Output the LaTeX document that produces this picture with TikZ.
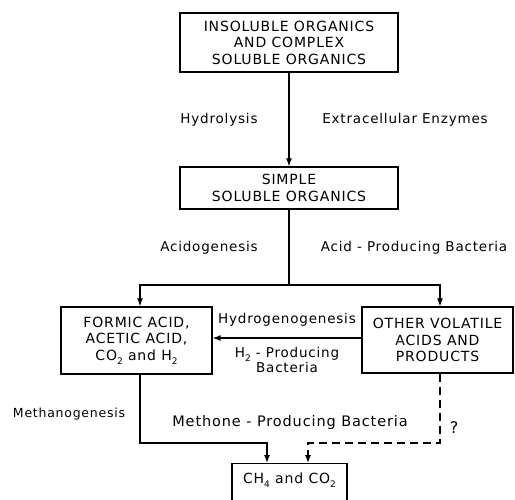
\documentclass[tikz,border=0pt]{standalone}
\usepackage{fontspec}
\usetikzlibrary{arrows.meta}
\setmainfont{DejaVu Sans}[LetterSpace=6]
\newcommand{\lsub}[1]{\raisebox{-0.5ex}{\small #1}}

\begin{document}
\begin{tikzpicture}[x=1pt,y=-1pt,>={Latex[length=8pt,width=6pt]},
  box/.style={draw,line width=1.3pt,align=center,inner sep=0pt,font=\fontsize{14}{16.5}\selectfont},
  lbl/.style={align=center,font=\fontsize{13.5}{15}\selectfont},
  flow/.style={line width=1.2pt}]
  \useasboundingbox (0,0) rectangle (515,499);
  \clip (0,0) rectangle (515,499);
  % boxes
  \node[box,minimum width=218,minimum height=59] (ins) at (289,42.5)
    {INSOLUBLE ORGANICS\\AND COMPLEX\\SOLUBLE ORGANICS};
  \node[box,minimum width=218,minimum height=42] (simple) at (289,188)
    {SIMPLE\\SOLUBLE ORGANICS};
  \node[box,minimum width=151,minimum height=67] (formic) at (136.5,340.5)
    {FORMIC ACID,\\ACETIC ACID,\\CO\lsub{2} and H\lsub{2}};
  \node[box,minimum width=151,minimum height=66] (other) at (437.5,340)
    {OTHER VOLATILE\\ACIDS AND\\PRODUCTS};
  \node[box,minimum width=115,minimum height=44,anchor=north] (ch4) at (289.5,463) {};
  \node (ch4t) at (289.5,480) {\fontsize{14}{16}\selectfont CH\lsub{4} and CO\lsub{2}};
  % labels
  \node[lbl] (hydro) at (219,120) {Hydrolysis};
  \node[lbl] (enz) at (405,120) {Extracellular Enzymes};
  \node[lbl] (acido) at (209,248) {Acidogenesis};
  \node[lbl] (apb) at (414,248) {Acid - Producing Bacteria};
  \node[lbl] (hgen) at (287,320) {Hydrogenogenesis};
  \node[lbl] (h2pb) at (287,360) {H\lsub{2} - Producing\\Bacteria};
  \node[lbl,font=\fontsize{12.5}{15}\selectfont] (methano) at (69,414) {Methanogenesis};
  \node[lbl,font=\fontsize{14.5}{16}\selectfont] (mpb) at (290,422) {Methone - Producing Bacteria};
  \node[lbl,font=\fontsize{16}{18}\selectfont] (q) at (454,428) {?};
  % split and join points
  \coordinate (split) at (289,285);
  \coordinate (join) at (140,443);
  \coordinate (dj) at (440,443);
  % connectors
  \draw[flow,->] (ins) -- (simple);
  \draw[flow] (simple) -- (split);
  \draw[flow,->] (split) -| (formic.north -| join);
  \draw[flow,->] (split) -| (other.north -| dj);
  \draw[flow,->] (other.west |- 0,338) -- (formic.east |- 0,338);
  \draw[flow,->] (formic.south -| join) -- (join) -| (ch4.north -| 267,0);
  \draw[flow,dash pattern=on 8pt off 5pt,->] (other.south -| dj) -- (dj) -| (ch4.north -| 308,0);
\end{tikzpicture}
\end{document}
